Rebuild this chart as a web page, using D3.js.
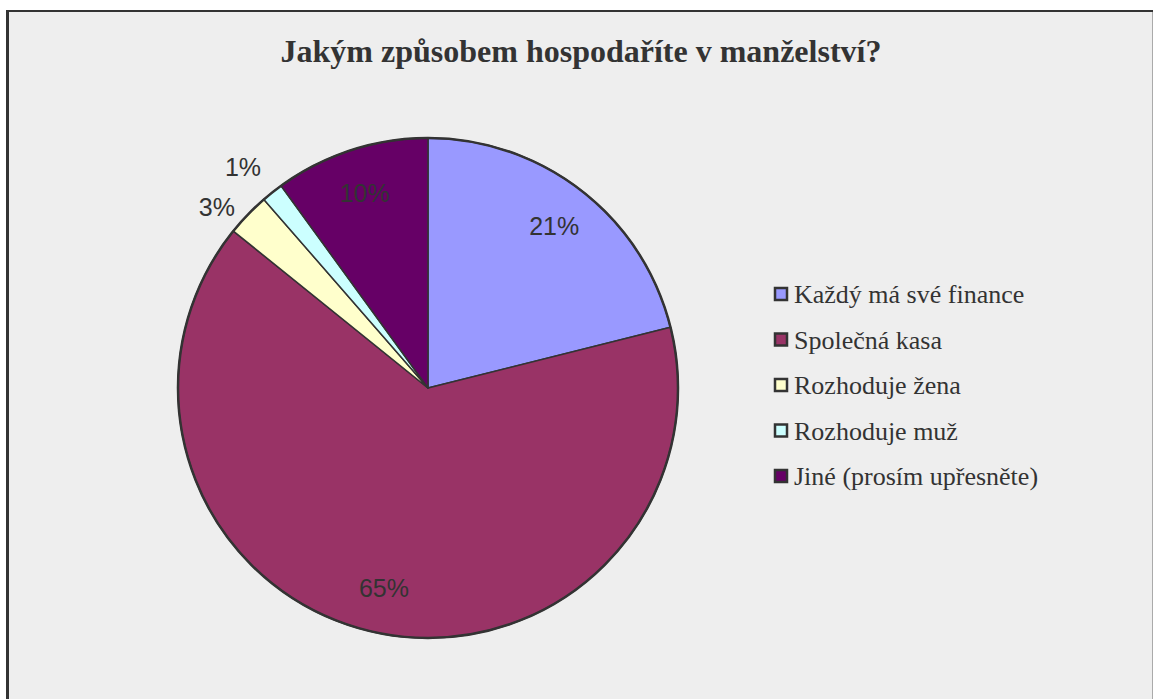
<!DOCTYPE html>
<meta charset="utf-8">
<style>
body { margin: 0; background: #fff; }
.title { font: bold 32px "Liberation Serif", "Times New Roman", serif; fill: #333; }
.pct { font: 25px "Liberation Sans", Arial, sans-serif; fill: #333; }
.legend text { font: 26px "Liberation Serif", "Times New Roman", serif; fill: #333; }
</style>
<svg width="1154" height="699"></svg>
<script src="https://cdn.jsdelivr.net/npm/d3@7/dist/d3.min.js"></script>
<script>

var categories = ["Každý má své finance", "Společná kasa", "Rozhoduje žena", "Rozhoduje muž", "Jiné (prosím upřesněte)"];
var values = [21.1, 64.7, 2.8, 1.4, 10.0];
var labels = ["21%", "65%", "3%", "1%", "10%"];
var colors = ["#9999ff", "#993366", "#ffffcc", "#ccffff", "#660066"];
var outside = [false, false, true, true, false];

var svg = d3.select("svg");

// chart area + frame
svg.append("rect")
    .attr("x", 7).attr("y", 10)
    .attr("width", 1146).attr("height", 700)
    .attr("fill", "#eeeeee");
svg.append("line").attr("x1", 1152.5).attr("x2", 1152.5).attr("y1", 10).attr("y2", 699)
    .attr("stroke", "#aaa").attr("stroke-width", 1);
svg.append("line").attr("x1", 6).attr("x2", 1153).attr("y1", 11).attr("y2", 11)
    .attr("stroke", "#333").attr("stroke-width", 2);
svg.append("line").attr("x1", 7.5).attr("x2", 7.5).attr("y1", 10).attr("y2", 699)
    .attr("stroke", "#333").attr("stroke-width", 3);

svg.append("text")
    .attr("class", "title")
    .attr("x", 581).attr("y", 62)
    .attr("text-anchor", "middle")
    .text("Jakým způsobem hospodaříte v manželství?");

var cx = 428, cy = 388, r = 250;
var g = svg.append("g").attr("transform", "translate(" + cx + "," + cy + ")");

var pie = d3.pie().sort(null).value(function(d) { return d; });
var arcs = pie(values);
var arc = d3.arc().innerRadius(0).outerRadius(r);
var inLabel = d3.arc().innerRadius(205).outerRadius(205);
var outLabel = d3.arc().innerRadius(268).outerRadius(268);

g.selectAll("path.slice")
    .data(arcs)
    .enter().append("path")
    .attr("class", "slice")
    .attr("d", arc)
    .attr("fill", function(d, i) { return colors[i]; })
    .attr("stroke", "#333")
    .attr("stroke-width", 1.5)
    .attr("stroke-linejoin", "round");

g.append("circle")
    .attr("r", r)
    .attr("fill", "none")
    .attr("stroke", "#333")
    .attr("stroke-width", 2.5);

// label positions: inside ones centred, outside ones hang off the rim;
// outside labels that crowd each other get pushed apart vertically
var pos = arcs.map(function(d, i) {
    return (outside[i] ? outLabel : inLabel).centroid(d);
});
var outIdx = d3.range(arcs.length).filter(function(i) { return outside[i]; })
    .sort(function(a, b) { return pos[a][1] - pos[b][1]; });
for (var k = 1; k < outIdx.length; k++) {
    var prev = pos[outIdx[k - 1]], cur = pos[outIdx[k]];
    if (cur[1] - prev[1] < 40) cur[1] = prev[1] + 40;
}

g.selectAll("text.pct")
    .data(arcs)
    .enter().append("text")
    .attr("class", "pct")
    .attr("transform", function(d, i) { return "translate(" + pos[i] + ")"; })
    .attr("text-anchor", function(d, i) { return outside[i] ? "end" : "middle"; })
    .attr("dy", function(d, i) { return outside[i] ? "-0.1em" : "0.35em"; })
    .text(function(d, i) { return labels[i]; });

var legend = svg.append("g").attr("class", "legend")
    .selectAll("g")
    .data(categories)
    .enter().append("g")
    .attr("transform", function(d, i) { return "translate(775," + (294 + i * 45.5) + ")"; });

legend.append("rect")
    .attr("x", 0).attr("y", -6)
    .attr("width", 12).attr("height", 12)
    .attr("fill", function(d, i) { return colors[i]; })
    .attr("stroke", "#333").attr("stroke-width", 2.5);

legend.append("text")
    .attr("x", 19)
    .attr("dy", "0.35em")
    .text(function(d) { return d; });

</script>
